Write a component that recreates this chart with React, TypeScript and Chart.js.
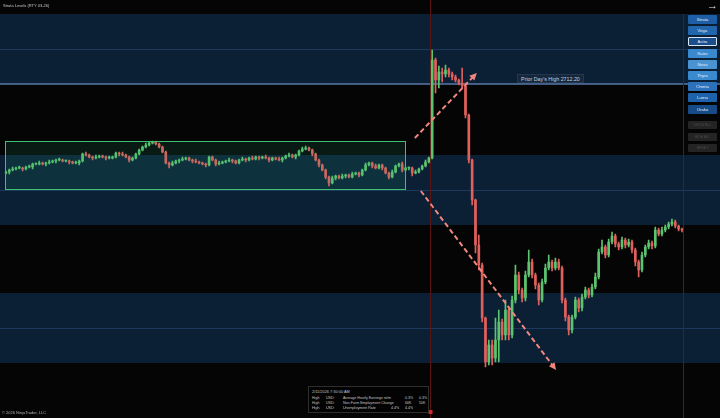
import React, { useEffect, useRef } from "react";
import { Chart, registerables } from "chart.js";

Chart.register(...registerables);

// ---- Data (RTY 03-26, 1-bar candles) ----
const firstOpen = 2703.3;
const closes = [
  2703.4, 2703.6, 2703.7, 2703.8, 2703.8, 2703.7, 2703.9, 2703.9, 2704.2, 2704.2,
  2704.3, 2704.2, 2704.3, 2704.4, 2704.5, 2704.6, 2704.6, 2704.5, 2704.5, 2704.4,
  2704.3, 2704.3, 2704.5, 2705.2, 2705.1, 2704.9, 2704.8, 2704.9, 2705.0, 2704.9,
  2704.8, 2704.8, 2704.9, 2705.3, 2705.2, 2705.1, 2704.9, 2704.6, 2704.8, 2705.2,
  2705.6, 2705.9, 2706.1, 2706.3, 2706.4, 2706.2, 2705.9, 2705.4, 2704.3, 2704.1,
  2704.3, 2704.5, 2704.6, 2704.7, 2704.8, 2704.6, 2704.5, 2704.4, 2704.3, 2704.2,
  2704.1, 2704.9, 2704.6, 2704.2, 2704.3, 2704.4, 2704.5, 2704.6, 2704.5, 2704.3,
  2704.6, 2704.7, 2704.6, 2704.8, 2704.7, 2704.9, 2704.8, 2704.9, 2704.8, 2704.6,
  2704.8, 2704.7, 2704.6, 2704.8, 2705.0, 2705.1, 2704.9, 2705.1, 2705.5, 2705.7,
  2705.8, 2705.6, 2705.2, 2704.6, 2704.1, 2703.6, 2702.9, 2702.3, 2702.8, 2703.0,
  2702.8, 2703.0, 2703.1, 2702.9, 2703.2, 2703.3, 2703.1, 2703.6, 2704.1, 2704.3,
  2704.0, 2703.8, 2704.1, 2703.8, 2703.3, 2702.9, 2703.4, 2704.0, 2704.2, 2703.6,
  2703.8, 2703.8, 2703.3, 2703.4, 2703.7, 2704.0, 2704.4, 2704.8, 2714.6, 2712.6,
  2713.4, 2713.2, 2713.6, 2713.2, 2712.9, 2712.6, 2712.3, 2712.0, 2709.1, 2704.6,
  2700.6, 2696.1, 2694.1, 2688.8, 2684.4, 2686.1, 2684.8, 2686.6, 2688.4, 2687.1,
  2689.6, 2687.1, 2690.6, 2693.1, 2691.6, 2690.8, 2693.1, 2694.4, 2693.1, 2692.1,
  2690.6, 2692.4, 2693.8, 2694.4, 2693.8, 2694.4, 2693.8, 2690.6, 2688.9, 2687.6,
  2688.9, 2690.6, 2689.8, 2690.9, 2691.6, 2691.1, 2691.9, 2692.9, 2695.4, 2695.9,
  2695.1, 2696.4, 2697.0, 2696.2, 2695.9, 2696.6, 2696.1, 2696.4, 2695.6, 2694.4,
  2693.6, 2695.1, 2695.9, 2696.3, 2696.0, 2697.6, 2697.2, 2697.6, 2697.9, 2698.2,
  2698.4, 2698.0, 2697.7, 2697.6,
];
const upperWicks = [
  0.1, 0.1, 0.2, 0.1, 0.2, 0.1, 0.1, 0.2, 0.1, 0.1,
  0.2, 0.1, 0.1, 0.2, 0.1, 0.1, 0.2, 0.1, 0.1, 0.1,
  0.1, 0.2, 0.1, 0.1, 0.2, 0.1, 0.1, 0.2, 0.1, 0.1,
  0.1, 0.2, 0.1, 0.1, 0.1, 0.2, 0.1, 0.1, 0.1, 0.1,
  0.1, 0.1, 0.2, 0.1, 0.1, 0.1, 0.1, 0.1, 0.1, 0.1,
  0.2, 0.1, 0.1, 0.2, 0.1, 0.1, 0.1, 0.2, 0.1, 0.1,
  0.1, 0.1, 0.1, 0.1, 0.2, 0.1, 0.1, 0.2, 0.1, 0.1,
  0.1, 0.2, 0.1, 0.1, 0.2, 0.1, 0.1, 0.1, 0.2, 0.1,
  0.1, 0.1, 0.2, 0.1, 0.1, 0.2, 0.1, 0.1, 0.1, 0.2,
  0.2, 0.1, 0.1, 0.1, 0.1, 0.1, 0.1, 0.1, 0.2, 0.1,
  0.1, 0.2, 0.1, 0.1, 0.2, 0.1, 0.1, 0.1, 0.2, 0.1,
  0.1, 0.2, 0.1, 0.1, 0.1, 0.1, 0.2, 0.1, 0.1, 0.2,
  0.1, 0.1, 0.1, 0.2, 0.1, 0.1, 0.2, 0.1, 1.0, 0.2,
  0.6, 0.4, 0.5, 0.2, 0.2, 0.2, 0.1, 1.5, 0.3, 0.1,
  0.1, 0.1, 1.0, 0.2, 0.1, 0.5, 0.5, 2.2, 1.2, 0.3,
  1.0, 0.3, 0.4, 1.0, 0.3, 0.2, 0.4, 1.2, 0.3, 0.2,
  0.2, 0.3, 0.4, 0.7, 0.2, 0.4, 0.3, 0.2, 0.2, 0.2,
  0.2, 0.3, 0.2, 0.3, 0.3, 0.2, 0.3, 0.4, 0.3, 0.7,
  0.2, 0.3, 0.4, 0.2, 0.2, 0.3, 0.2, 0.3, 0.2, 0.2,
  0.2, 0.3, 0.2, 0.3, 0.2, 0.3, 0.2, 0.3, 0.2, 0.2,
  0.3, 0.2, 0.1, 0.1,
];
const lowerWicks = [
  0.1, 0.2, 0.1, 0.1, 0.1, 0.2, 0.1, 0.1, 0.2, 0.1,
  0.1, 0.1, 0.2, 0.1, 0.1, 0.2, 0.1, 0.1, 0.1, 0.2,
  0.1, 0.1, 0.2, 0.1, 0.1, 0.1, 0.2, 0.1, 0.1, 0.1,
  0.2, 0.1, 0.1, 0.1, 0.2, 0.1, 0.1, 0.2, 0.1, 0.1,
  0.1, 0.1, 0.1, 0.1, 0.1, 0.1, 0.1, 0.1, 0.1, 0.3,
  0.1, 0.1, 0.2, 0.1, 0.1, 0.1, 0.2, 0.1, 0.1, 0.1,
  0.2, 0.1, 0.1, 0.2, 0.1, 0.1, 0.1, 0.1, 0.2, 0.1,
  0.1, 0.1, 0.2, 0.1, 0.1, 0.1, 0.2, 0.1, 0.1, 0.2,
  0.1, 0.1, 0.1, 0.2, 0.1, 0.1, 0.1, 0.2, 0.1, 0.1,
  0.1, 0.1, 0.2, 0.1, 0.2, 0.1, 0.2, 0.3, 0.1, 0.2,
  0.1, 0.1, 0.2, 0.1, 0.1, 0.1, 0.2, 0.1, 0.1, 0.1,
  0.2, 0.1, 0.1, 0.2, 0.1, 0.2, 0.1, 0.1, 0.1, 0.2,
  0.1, 0.2, 0.3, 0.1, 0.1, 0.1, 0.1, 0.1, 0.1, 1.3,
  0.8, 0.8, 0.3, 0.3, 0.3, 0.2, 0.2, 0.2, 0.3, 0.3,
  0.5, 0.8, 0.5, 0.4, 0.5, 0.3, 0.7, 0.4, 2.2, 0.5,
  0.5, 0.5, 0.3, 0.3, 0.4, 0.4, 0.3, 0.2, 0.3, 0.4,
  0.5, 0.2, 0.2, 0.2, 0.3, 0.2, 0.2, 0.3, 0.4, 0.5,
  0.3, 0.2, 0.4, 0.3, 0.2, 0.3, 0.2, 0.2, 0.2, 0.2,
  0.3, 0.2, 0.2, 0.3, 0.3, 0.2, 0.3, 0.2, 0.3, 0.4,
  0.7, 0.2, 0.2, 0.2, 0.3, 0.2, 0.2, 0.2, 0.2, 0.2,
  0.2, 0.2, 0.2, 0.2,
];

// Strata levels (band centres) and the half-width of each zone
const levelCenters = [2715.7, 2701.6, 2687.8];
const zoneHalfWidth = 3.5;
const priorDayHigh = 2712.2;
const yMin = 2678.8;
const yMax = 2720.6;

// Annotations (bar index / price)
const sessionBreakIndex = 127.3;
const currentBarIndex = 203.3;
const rangeBoxStart = -0.3;
const rangeBoxEnd = 119.8;
const rangeBoxHigh = 2706.5;
const rangeBoxLow = 2701.7;
const arrowStarts = [[122.8, 2706.8], [124.6, 2701.5]];
const arrowEnds = [[141.4, 2713.3], [165.2, 2683.6]];
const priorHighLabelIndex = 153.5;

const titleText = "Strata Levels (RTY 03-26)";
const buttonNames = ["Strata", "Vega", "Astra", "Kairo", "Nexa", "Thyra", "Omnia", "Luma", "Orako"];
const buttonColors = ["#1d5ea6", "#2266ae", "#1b4f8c", "#3a89cf", "#4a93d3", "#3a8acf", "#2b72ba", "#1f62ac", "#174b88"];
const disabledButtons = ["SHOW ALL", "HIDE ALL", "RESET"];
const eventTime = "2/11/2026 7:30:00 AM";
const eventRows = [
  ["High", "USD:", "Average Hourly Earnings m/m", "0.3%", "0.3%"],
  ["High", "USD:", "Non-Farm Employment Change", "66K", "50K"],
  ["High", "USD:", "Unemployment Rate", "4.4%", "4.4%"],
];
const copyright = "\u00A9 2026 NinjaTrader, LLC";

const GREEN = "#5cc46e";
const RED = "#e0605c";
const NAVY = "#0b1f35";
const BG = "#050505";
const FONT = "'Liberation Sans', Arial, sans-serif";

export default function App() {
  const canvasRef = useRef<HTMLCanvasElement>(null);
  const labelRef = useRef<HTMLDivElement>(null);

  useEffect(() => {
    document.body.style.margin = "0";
    const canvas = canvasRef.current;
    if (!canvas) return;

    const opens = [firstOpen, ...closes.slice(0, -1)];
    const highs = closes.map((c, i) => Math.max(c, opens[i]) + upperWicks[i]);
    const lows = closes.map((c, i) => Math.min(c, opens[i]) - lowerWicks[i]);
    const colors = closes.map((c, i) => (c >= opens[i] ? GREEN : RED));
    const labels = closes.map((_, i) => String(i));

    const bgPlugin = {
      id: "strataBackground",
      beforeDraw(chart: any) {
        const { ctx, width, height } = chart;
        const ys = chart.scales.y;
        const xs = chart.scales.x;
        ctx.save();
        ctx.fillStyle = BG;
        ctx.fillRect(0, 0, width, height);
        levelCenters.forEach((c) => {
          const top = ys.getPixelForValue(c + zoneHalfWidth);
          const bot = ys.getPixelForValue(c - zoneHalfWidth);
          ctx.fillStyle = NAVY;
          ctx.fillRect(0, top, width, bot - top);
          ctx.strokeStyle = "#1d3a5e";
          ctx.lineWidth = 1;
          const yc = Math.round(ys.getPixelForValue(c)) + 0.5;
          ctx.beginPath();
          ctx.moveTo(0, yc);
          ctx.lineTo(width, yc);
          ctx.stroke();
        });
        // prior day high
        const yp = ys.getPixelForValue(priorDayHigh);
        ctx.strokeStyle = "#5878a8";
        ctx.lineWidth = 1.5;
        ctx.beginPath();
        ctx.moveTo(0, yp);
        ctx.lineTo(width, yp);
        ctx.stroke();
        // session break + current bar lines
        const xb = Math.round(xs.getPixelForValue(sessionBreakIndex)) + 0.5;
        ctx.strokeStyle = "#5a1414";
        ctx.lineWidth = 1;
        ctx.beginPath();
        ctx.moveTo(xb, 0);
        ctx.lineTo(xb, height);
        ctx.stroke();
        const xc = Math.round(xs.getPixelForValue(currentBarIndex)) + 0.5;
        ctx.strokeStyle = "#262e38";
        ctx.beginPath();
        ctx.moveTo(xc, 14);
        ctx.lineTo(xc, height);
        ctx.stroke();
        ctx.restore();
      },
      afterDatasetsDraw(chart: any) {
        const { ctx, height } = chart;
        const ys = chart.scales.y;
        const xs = chart.scales.x;
        ctx.save();
        // range box
        const bx1 = xs.getPixelForValue(rangeBoxStart);
        const bx2 = xs.getPixelForValue(rangeBoxEnd);
        const by1 = ys.getPixelForValue(rangeBoxHigh);
        const by2 = ys.getPixelForValue(rangeBoxLow);
        ctx.fillStyle = "rgba(40,170,120,0.13)";
        ctx.fillRect(bx1, by1, bx2 - bx1, by2 - by1);
        ctx.strokeStyle = "#3fc270";
        ctx.lineWidth = 1;
        ctx.strokeRect(Math.round(bx1) + 0.5, Math.round(by1) + 0.5, Math.round(bx2 - bx1), Math.round(by2 - by1));
        // arrows
        arrowStarts.forEach((s, k) => {
          const e = arrowEnds[k];
          const x1 = xs.getPixelForValue(s[0]);
          const y1 = ys.getPixelForValue(s[1]);
          const x2 = xs.getPixelForValue(e[0]);
          const y2 = ys.getPixelForValue(e[1]);
          const ang = Math.atan2(y2 - y1, x2 - x1);
          const head = 8;
          ctx.strokeStyle = "#f0877f";
          ctx.lineWidth = 2;
          ctx.setLineDash([5, 3]);
          ctx.beginPath();
          ctx.moveTo(x1, y1);
          ctx.lineTo(x2 - Math.cos(ang) * head * 0.7, y2 - Math.sin(ang) * head * 0.7);
          ctx.stroke();
          ctx.setLineDash([]);
          ctx.fillStyle = "#f0877f";
          ctx.beginPath();
          ctx.moveTo(x2, y2);
          ctx.lineTo(x2 - head * Math.cos(ang - 0.45), y2 - head * Math.sin(ang - 0.45));
          ctx.lineTo(x2 - head * Math.cos(ang + 0.45), y2 - head * Math.sin(ang + 0.45));
          ctx.closePath();
          ctx.fill();
        });
        // session marker
        const xb = Math.round(xs.getPixelForValue(sessionBreakIndex));
        ctx.fillStyle = "#d02626";
        ctx.fillRect(xb - 1.5, height - 8, 4, 4);
        ctx.restore();
      },
    };

    const chart = new Chart(canvas, {
      type: "bar",
      data: {
        labels,
        datasets: [
          {
            data: closes.map((c, i) => [opens[i], c]),
            backgroundColor: colors,
            borderWidth: 0,
            barThickness: 2,
            minBarLength: 1,
            grouped: false,
          } as any,
          {
            data: lows.map((l, i) => [l, highs[i]]),
            backgroundColor: colors,
            borderWidth: 0,
            barThickness: 1,
            grouped: false,
          } as any,
        ],
      },
      options: {
        responsive: false,
        maintainAspectRatio: false,
        animation: false,
        events: [],
        layout: { padding: { left: 4.3, right: 36.4, top: 0, bottom: 0 } },
        scales: {
          x: { display: false, grid: { display: false } },
          y: { display: false, min: yMin, max: yMax, grid: { display: false } },
        },
        plugins: { legend: { display: false }, tooltip: { enabled: false } },
      },
      plugins: [bgPlugin],
    });

    const lbl = labelRef.current;
    if (lbl) {
      const yp = chart.scales.y.getPixelForValue(priorDayHigh);
      const xp = chart.scales.x.getPixelForValue(priorHighLabelIndex);
      lbl.style.left = `${xp}px`;
      lbl.style.top = `${yp - 10.5}px`;
    }

    return () => chart.destroy();
  }, []);

  return (
    <div
      style={{
        position: "fixed",
        left: 0,
        top: 0,
        width: 720,
        height: 418,
        background: BG,
        overflow: "hidden",
        fontFamily: FONT,
      }}
    >
      <canvas ref={canvasRef} width={720} height={418} style={{ position: "absolute", left: 0, top: 0 }} />
      <div style={{ position: "absolute", left: 3, top: 3, fontSize: 4, lineHeight: "5px", color: "#c8c8c8", whiteSpace: "nowrap" }}>
        {titleText}
      </div>
      <div style={{ position: "absolute", left: 707, top: -1, fontSize: 11, color: "#e8e8e8", fontWeight: 700 }}>
        {"\u2192"}
      </div>
      <div
        ref={labelRef}
        style={{
          position: "absolute",
          height: 9,
          lineHeight: "8px",
          padding: "0 3px",
          background: "#15273d",
          border: "1px solid #23384f",
          boxSizing: "border-box",
          fontSize: 5.3,
          color: "#c9d2de",
          whiteSpace: "nowrap",
        }}
      >
        {`Prior Day's High ${priorDayHigh.toFixed(2)}`}
      </div>
      {buttonNames.map((n, i) => (
        <div
          key={n}
          style={{
            position: "absolute",
            left: 688,
            top: 15 + i * 11.2,
            width: 29,
            height: 9,
            lineHeight: n === "Astra" ? "7px" : "9px",
            background: buttonColors[i],
            border: n === "Astra" ? "1px solid #d8e6f4" : "none",
            borderRadius: 1,
            boxSizing: "border-box",
            textAlign: "center",
            fontSize: 4.3,
            color: "#e6eef8",
          }}
        >
          {n}
        </div>
      ))}
      {disabledButtons.map((n, i) => (
        <div
          key={n}
          style={{
            position: "absolute",
            left: 688,
            top: 121 + i * 11.5,
            width: 29,
            height: 8,
            lineHeight: "8px",
            background: "#242424",
            borderRadius: 1,
            textAlign: "center",
            fontSize: 3.5,
            color: "#4a4a4a",
            whiteSpace: "nowrap",
          }}
        >
          {n}
        </div>
      ))}
      <div
        style={{
          position: "absolute",
          left: 308,
          top: 386,
          width: 121,
          height: 27,
          background: "#030303",
          border: "1px solid #2e2e2e",
          boxSizing: "border-box",
          fontSize: 3.6,
          color: "#c4c4c4",
        }}
      >
        <div style={{ position: "absolute", left: 3, top: 2, fontSize: 3.9, lineHeight: "5px", whiteSpace: "nowrap" }}>{eventTime}</div>
        {eventRows.map((r, i) => {
          const shift = i === 2 ? -14 : 0;
          return (
            <div key={i} style={{ position: "absolute", left: 0, top: 9 + i * 5.2, width: 121, height: 5, lineHeight: "5px", whiteSpace: "nowrap" }}>
              <span style={{ position: "absolute", left: 3 }}>{r[0]}</span>
              <span style={{ position: "absolute", left: 17 }}>{r[1]}</span>
              <span style={{ position: "absolute", left: 34 }}>{r[2]}</span>
              <span style={{ position: "absolute", left: 96 + shift }}>{r[3]}</span>
              <span style={{ position: "absolute", left: 110 + shift }}>{r[4]}</span>
            </div>
          );
        })}
      </div>
      <div style={{ position: "absolute", left: 2, top: 410, fontSize: 4, lineHeight: "5px", color: "#b4b4b4", whiteSpace: "nowrap" }}>
        {copyright}
      </div>
    </div>
  );
}
